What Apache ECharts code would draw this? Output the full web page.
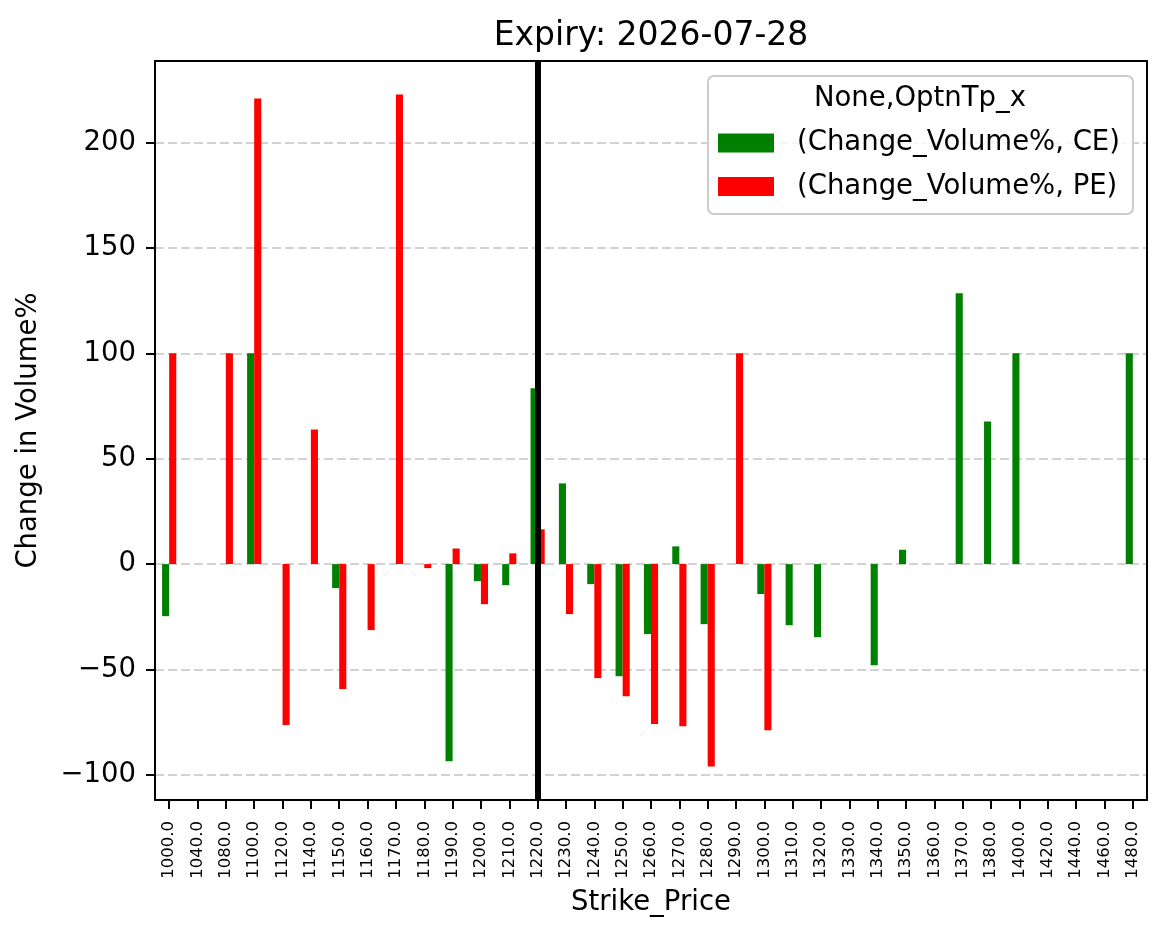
<!DOCTYPE html>
<html>
<head>
<meta charset="utf-8">
<script src="https://cdn.jsdelivr.net/npm/echarts@6/dist/echarts.min.js"></script>
<style>html,body{margin:0;padding:0;background:#fff}#c{width:1166px;height:939px}</style>
</head>
<body>
<div id="c"></div>
<script>
const strikes = ['1000.0','1040.0','1080.0','1100.0','1120.0','1140.0','1150.0','1160.0','1170.0','1180.0','1190.0','1200.0','1210.0','1220.0','1230.0','1240.0','1250.0','1260.0','1270.0','1280.0','1290.0','1300.0','1310.0','1320.0','1330.0','1340.0','1350.0','1360.0','1370.0','1380.0','1400.0','1420.0','1440.0','1460.0','1480.0'];
const ceValues = [-24.7,null,null,100,null,null,-11.4,null,null,null,-93.5,-8.1,-10.0,83.4,38.3,-9.5,-53.2,-33.2,8.4,-28.5,null,-14.2,-29.0,-34.7,null,-48.0,6.8,null,128.5,67.7,100,null,null,null,100];
const peValues = [100,null,100,220.9,-76.4,63.9,-59.3,-31.3,222.8,-1.9,7.4,-19.0,5.1,16.5,-23.7,-54.1,-62.7,-75.9,-76.9,-96.0,100,-78.8,null,null,null,null,null,null,null,null,null,null,null,null,null];
const ceName = '(Change_Volume%, CE)';
const peName = '(Change_Volume%, PE)';
const atmStrike = '1220.0';
const titleText = 'Expiry: 2026-07-28';
const legendTitle = 'None,OptnTp_x';

const FONT = 'DejaVu Sans';
const dmin = Math.min(...ceValues.filter(v=>v!==null), ...peValues.filter(v=>v!==null));
const dmax = Math.max(...ceValues.filter(v=>v!==null), ...peValues.filter(v=>v!==null));
const span = dmax - dmin;
const ymin = dmin - 0.05*span, ymax = dmax + 0.05*span;

const frameLine = {show:true, onZero:false, lineStyle:{color:'#000', width:2}};

const chart = echarts.init(document.getElementById('c'), null, {renderer:'canvas'});
chart.setOption({
  animation:false,
  backgroundColor:'#fff',
  title:{text:titleText, left:651, top:20, textAlign:'center', padding:0,
    textStyle:{fontFamily:FONT, fontSize:33, fontWeight:'normal', color:'#000'}},
  grid:{left:155, right:19, top:61, bottom:139, show:false, containLabel:false},
  legend:{orient:'vertical', left:718, top:129, itemWidth:56, itemHeight:19, itemGap:15.5, z:10,
    icon:'rect', padding:0,
    textStyle:{fontFamily:FONT, fontSize:27.5, color:'#000', padding:[0,0,0,18]},
    data:[ceName, peName]},
  graphic:[
    {type:'rect', z:5, shape:{x:708, y:76, width:425, height:138, r:6},
     style:{fill:'rgba(255,255,255,0.8)', stroke:'#cccccc', lineWidth:2}},
    {type:'text', z:11, x:920, y:99, style:{text:legendTitle, font:'27.5px "DejaVu Sans"', fill:'#000', textAlign:'center', textVerticalAlign:'middle'}}
  ],
  xAxis:[
    {type:'category', data:strikes, boundaryGap:true, position:'bottom',
    name:'Strike_Price', nameLocation:'middle', nameGap:89,
    nameTextStyle:{fontFamily:FONT, fontSize:27.5, color:'#000'},
    axisLine:frameLine,
    axisTick:{show:true, alignWithLabel:true, length:9, lineStyle:{color:'#000', width:2}},
    axisLabel:{interval:0, rotate:90, fontFamily:FONT, fontSize:16.5, color:'#000', margin:21},
    splitLine:{show:false}},
    {type:'category', data:strikes, boundaryGap:true, position:'top',
    axisLine:frameLine, axisTick:{show:false}, axisLabel:{show:false}, splitLine:{show:false}}
  ],
  yAxis:[
    {type:'value', min:ymin, max:ymax, splitNumber:7, position:'left',
    name:'Change in Volume%', nameLocation:'middle', nameGap:112,
    nameTextStyle:{fontFamily:FONT, fontSize:27.5, color:'#000'},
    axisLine:frameLine,
    axisTick:{show:true, length:9, lineStyle:{color:'#000', width:2}},
    axisLabel:{fontFamily:FONT, fontSize:27.5, color:'#000', margin:19, showMinLabel:false, showMaxLabel:false,
      formatter:v => (Math.abs(v % 50) > 1e-6) ? '' : (v < 0 ? '\u2212' + Math.abs(v) : String(v))},
    splitLine:{show:true, lineStyle:{color:'#c4c4c4', width:1.5, type:[9,4]}}},
    {type:'value', min:ymin, max:ymax, splitNumber:7, position:'right',
    axisLine:frameLine, axisTick:{show:false}, axisLabel:{show:false}, splitLine:{show:false}}
  ],
  series:[
    {name:ceName, type:'bar', data:ceValues, barWidth:'25%', barGap:'0%', itemStyle:{color:'#008000'}},
    {name:peName, type:'bar', data:peValues, barWidth:'25%', barGap:'0%', itemStyle:{color:'#ff0000'}},
    {name:'atm', type:'line', data:[], z:5,
     markLine:{silent:true, symbol:['none','none'], label:{show:false},
       lineStyle:{color:'#000', width:6, type:'solid'},
       data:[{xAxis:atmStrike}]}}
  ]
});
</script>
</body>
</html>
